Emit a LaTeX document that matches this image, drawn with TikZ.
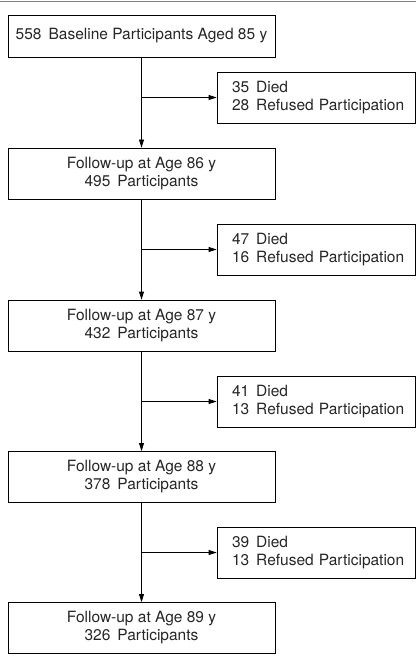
\documentclass[tikz,border=0pt]{standalone}
\usepackage{fontspec}
\setmainfont{TeX Gyre Heros}
\usetikzlibrary{arrows.meta}
\newcommand{\gap}{\hspace{0.45em}}

\begin{document}
\begin{tikzpicture}[x=1pt,y=1pt,
    stage/.style={draw, line width=0.8pt, minimum width=267pt, minimum height=51pt, inner sep=0pt, align=center, text=black!85, font=\fontsize{15.5}{18}\selectfont},
    loss/.style={draw, line width=0.8pt, text width=168pt, inner xsep=15pt, inner ysep=0pt, minimum height=51pt, align=left, text=black!85, font=\fontsize{15.5}{18}\selectfont},
    flow/.style={line width=0.8pt, -{Triangle[length=8pt,width=5pt]}}]
\useasboundingbox (0,0) rectangle (416,-663);
\draw[gray, line width=1.5pt] (0,-1.5) -- (416,-1.5);

\node[stage, minimum height=42pt] (base) at (141.5,-36) {558\gap Baseline Participants Aged 85 y};
\node[stage] (fu86) at (141.5,-173.5) {Follow-up at Age 86 y\\495\gap Participants};
\node[stage] (fu87) at (141.5,-325.5) {Follow-up at Age 87 y\\432\gap Participants};
\node[stage] (fu88) at (141.5,-477) {Follow-up at Age 88 y\\378\gap Participants};
\node[stage] (fu89) at (141.5,-628) {Follow-up at Age 89 y\\326\gap Participants};

\node[loss] (out1) at (316,-97.5) {35\gap Died\\\mbox{28\gap Refused Participation}};
\node[loss] (out2) at (316,-249.5) {47\gap Died\\\mbox{16\gap Refused Participation}};
\node[loss] (out3) at (316,-401.5) {41\gap Died\\\mbox{13\gap Refused Participation}};
\node[loss] (out4) at (316,-552.5) {39\gap Died\\\mbox{13\gap Refused Participation}};

\draw[flow] (base) -- (fu86);
\draw[flow] (fu86) -- (fu87);
\draw[flow] (fu87) -- (fu88);
\draw[flow] (fu88) -- (fu89);

\draw[flow] (base.south |- out1) -- (out1);
\draw[flow] (fu86.south |- out2) -- (out2);
\draw[flow] (fu87.south |- out3) -- (out3);
\draw[flow] (fu88.south |- out4) -- (out4);
\end{tikzpicture}
\end{document}
